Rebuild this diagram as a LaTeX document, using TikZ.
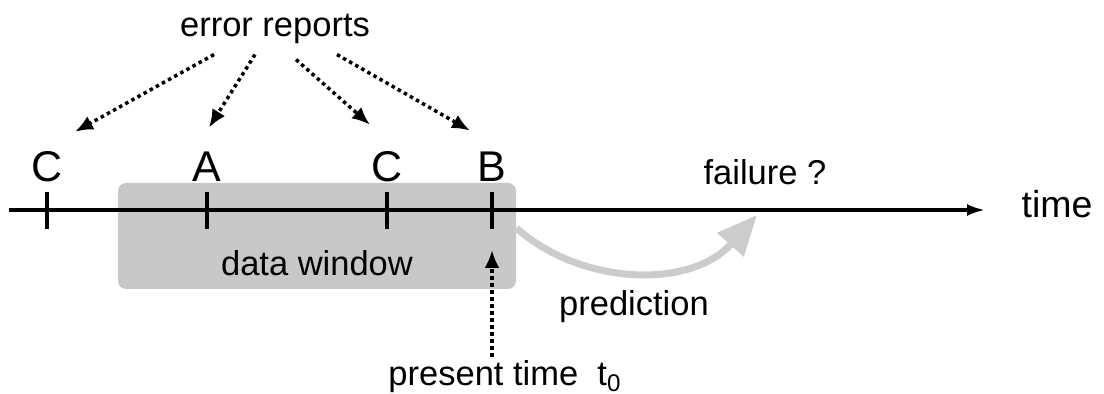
\documentclass[tikz,border=0pt]{standalone}
\usepackage{fontspec}
\setmainfont{Liberation Sans}
\usepackage{xcolor}
\usepackage{tikz}
\usetikzlibrary{arrows.meta,positioning}
\definecolor{windowgray}{RGB}{200, 200, 200}
\definecolor{arrowgray}{RGB}{204, 204, 204}
\tikzset{
 txt/.style={
 inner sep=2pt,
 font=\fontsize{17.25}{20}\selectfont
 },
 letter/.style={
 inner sep=2pt,
 font=\fontsize{21.5}{24}\selectfont
 },
 window/.style={
 rectangle,
 rounded corners=4pt,
 fill=windowgray,
 draw=none,
 inner sep=0pt,
 minimum width=199pt,
 minimum height=53pt
 },
 timeline/.style={-{Latex[length=9pt,width=6pt]}, line width=1.6pt},
 tickmark/.style={line width=1.6pt},
 dotarrow/.style={-{Latex[length=9pt,width=7.5pt]}, line width=1.75pt, dash pattern=on 1.75pt off 1.75pt},
 predarrow/.style={-{Triangle[length=20pt,width=17pt]}, line width=3.5pt, draw=arrowgray}
}

\begin{document}
\begin{tikzpicture}[x=0.5pt,y=-0.5pt]
 \useasboundingbox (0,0) rectangle (1104,394);
 \node[window] (win) at (317,236) {};
 \node[txt, anchor=base] (dw) at (317,276) {data window};
 % time axis
 \coordinate (tstart) at (9,210);
 \coordinate (tend) at (985,210);
 \draw[timeline] (tstart) -- (tend);
 \node[txt, anchor=base, font=\fontsize{18.75}{22}\selectfont] (time) at (1057,218) {time};
 \foreach \x/\n in {47/tC1, 207/tA, 387/tC2, 492/tB} {
 \coordinate (\n) at (\x,210);
 \draw[tickmark] (\x,192) -- (\x,229);
 }
 \node[letter, above=12pt of tC1] (lC1) {C};
 \node[letter, above=12pt of tA] (lA) {A};
 \node[letter, above=12pt of tC2] (lC2) {C};
 \node[letter, above=12pt of tB] (lB) {B};
 % reports
 \node[txt, anchor=base] (err) at (275,37) {error reports};
 \draw[dotarrow] ([xshift=-30.5pt,yshift=-3pt]err.south) -- ([xshift=14pt,yshift=7.5pt]lC1.north);
 \draw[dotarrow] ([xshift=-10pt,yshift=-3pt]err.south) -- ([xshift=1pt,yshift=10pt]lA.north);
 \draw[dotarrow] ([xshift=10.5pt,yshift=-5.5pt]err.south) -- ([xshift=-8.5pt,yshift=11pt]lC2.north);
 \draw[dotarrow] ([xshift=31pt,yshift=-3pt]err.south) -- ([xshift=-11pt,yshift=8.5pt]lB.north);
 % present time
 \node[txt, anchor=base] (now) at (505,386) {present time\ \ t\textsubscript{0}};
 \coordinate (nowtip) at (492,250);
 \draw[dotarrow] (now.north -| nowtip) -- (nowtip);
 % prediction
 \node[txt, anchor=base] (failq) at (765,185) {failure ?};
 \node[txt, anchor=base] (pred) at (634,316) {prediction};
 \coordinate (fail) at (757,215);
 \draw[predarrow] ([yshift=4pt]win.east) .. controls (580,285) and (690,290) .. (fail);
\end{tikzpicture}
\end{document}
